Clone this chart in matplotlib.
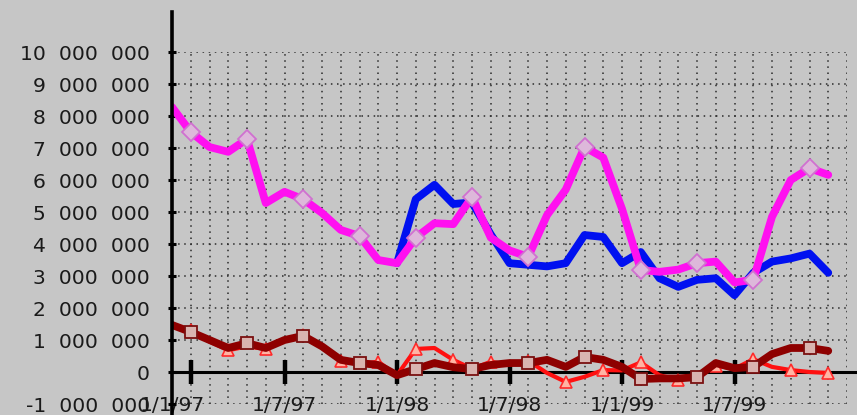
import matplotlib
matplotlib.use("Agg")
import matplotlib.pyplot as plt
from matplotlib.ticker import FixedLocator

# Monthly positions (category index along the x axis)
n_months = 36

# Series values in millions
magenta_vals = [8.28, 7.50, 7.03, 6.88, 7.28, 5.28, 5.63, 5.40, 4.97, 4.44,
                4.25, 3.50, 3.40, 4.20, 4.65, 4.62, 5.47, 4.20, 3.80, 3.60,
                4.90, 5.70, 7.03, 6.70, 5.10, 3.19, 3.13, 3.20, 3.40, 3.45,
                2.80, 2.88, 4.85, 6.00, 6.37, 6.16]

blue_start = 12
blue_vals = [3.40, 5.40, 5.85, 5.25, 5.30, 4.30, 3.40, 3.35, 3.30, 3.40,
             4.28, 4.22, 3.40, 3.75, 2.93, 2.66, 2.88, 2.93, 2.40, 3.10,
             3.45, 3.55, 3.70, 3.10]

darkred_vals = [1.47, 1.25, 1.00, 0.75, 0.90, 0.75, 1.00, 1.13, 0.80, 0.38,
                0.28, 0.22, -0.10, 0.09, 0.28, 0.15, 0.09, 0.22, 0.28, 0.28,
                0.38, 0.16, 0.47, 0.38, 0.16, -0.22, -0.20, -0.20, -0.16, 0.28,
                0.12, 0.16, 0.56, 0.75, 0.75, 0.66]

red_vals = [1.50, 1.30, 0.95, 0.68, 0.80, 0.72, 1.00, 1.15, 0.80, 0.35,
            0.25, 0.32, -0.10, 0.72, 0.75, 0.38, 0.10, 0.32, 0.22, 0.35,
            -0.03, -0.31, -0.15, 0.06, 0.05, 0.30, -0.10, -0.25, -0.15, 0.20,
            0.10, 0.40, 0.16, 0.06, 0.00, -0.03]

x_label_pos = [0, 6, 12, 18, 24, 30]
x_labels = ["1/1/97", "1/7/97", "1/1/98", "1/7/98", "1/1/99", "1/7/99"]
x_mark_pos = [1, 6, 12, 18, 24, 30]

y_ticks = list(range(-1, 11))
y_labels = ["-1  000  000", "0", "1  000  000", "2  000  000", "3  000  000",
            "4  000  000", "5  000  000", "6  000  000", "7  000  000",
            "8  000  000", "9  000  000", "10  000  000"]

bg = "#C6C6C6"
W, H = 857, 415
fig = plt.figure(figsize=(W / 100, H / 100), dpi=100, facecolor=bg)
ax = fig.add_axes([172 / W, 11 / H, 675 / W, 352 / H], facecolor=bg)

ax.set_xlim(0, n_months)
ax.set_ylim(-1, 10)

# Dotted grid
grid_kw = dict(color="#2a2a2a", linestyle=(0, (1, 3)), linewidth=1.1)
ax.xaxis.set_major_locator(FixedLocator(range(0, n_months + 1)))
ax.set_xticklabels([x_labels[x_label_pos.index(i)] if i in x_label_pos else ""
                    for i in range(0, n_months + 1)])
ax.xaxis.set_minor_locator(FixedLocator(x_mark_pos))
ax.xaxis.remove_overlapping_locs = False
ax.set_yticks(y_ticks)
ax.set_yticklabels(y_labels)
ax.grid(True, which="major", **grid_kw)
ax.set_axisbelow(True)

for s in ax.spines.values():
    s.set_visible(False)
ax.spines["bottom"].set_position(("data", 0))

font_px = 14.6
ax.tick_params(axis="x", which="major", length=0, pad=17.5, labelsize=font_px,
               colors="#1a1a1a")
ax.tick_params(axis="x", which="minor", direction="inout", length=17,
               width=3.2, color="black")
ax.tick_params(axis="y", which="major", direction="inout", length=6,
               width=2.2, pad=13, labelsize=font_px, colors="#1a1a1a")
ax.tick_params(axis="y", which="major", color="black")

# Axis lines extending past the plotting area
ax.axvline(0, ymin=-0.04, ymax=1.114, color="black", lw=2.6, clip_on=False,
           zorder=5)
ax.axhline(0, xmin=0, xmax=(W - 172) / 675, color="black", lw=2.2,
           clip_on=False, zorder=1.5)

months = list(range(n_months))
blue_x = list(range(blue_start, blue_start + len(blue_vals)))

ax.plot(months, red_vals, color="#FF1010", lw=3.0, marker="^", markevery=(1, 2),
        ms=8, mfc="#FFB4A4", mec="#FF2A2A", mew=1.2, zorder=2,
        solid_joinstyle="round", solid_capstyle="round")
ax.plot(months, darkred_vals, color="#8E0000", lw=5.6, marker="s",
        markevery=(1, 3), ms=8, mfc="#D9B4B0", mec="#7A1010", mew=1.3,
        zorder=3, solid_joinstyle="round", solid_capstyle="round")
ax.plot(blue_x, blue_vals, color="#0010F0", lw=5.6, zorder=4,
        solid_joinstyle="round", solid_capstyle="round")
ax.plot(months, magenta_vals, color="#FF10F0", lw=5.6, marker="D",
        markevery=(1, 3), ms=9, mfc="#DDB8DA", mec="#D070D0", mew=1.3,
        zorder=4.5, solid_joinstyle="round", solid_capstyle="round")

fig.savefig("out.png", dpi=100, facecolor=bg)
